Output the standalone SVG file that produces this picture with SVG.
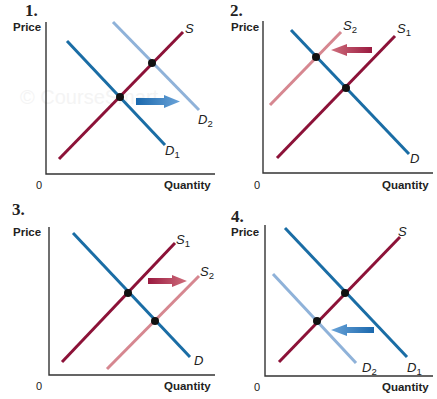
<svg xmlns="http://www.w3.org/2000/svg" width="437" height="399" viewBox="0 0 437 399">
<defs>
<linearGradient id="gBlueR" x1="0" y1="0" x2="1" y2="0"><stop offset="0" stop-color="#1a68ad"/><stop offset="1" stop-color="#6aa3d8"/></linearGradient>
<linearGradient id="gBlueL" x1="1" y1="0" x2="0" y2="0"><stop offset="0" stop-color="#1a68ad"/><stop offset="1" stop-color="#6aa3d8"/></linearGradient>
<linearGradient id="gRedR" x1="0" y1="0" x2="1" y2="0"><stop offset="0" stop-color="#9a1a40"/><stop offset="1" stop-color="#cf6e7c"/></linearGradient>
<linearGradient id="gRedL" x1="1" y1="0" x2="0" y2="0"><stop offset="0" stop-color="#9a1a40"/><stop offset="1" stop-color="#cf6e7c"/></linearGradient>
</defs>
<style>
.num{font-family:"Liberation Serif",serif;font-weight:bold;font-size:17px;fill:#222}
.ax{font-family:"Liberation Sans",Arial,sans-serif;font-weight:bold;font-size:11.5px;fill:#222}
.zero{font-family:"Liberation Sans",Arial,sans-serif;font-size:11px;fill:#222}
.lab{font-family:"Liberation Sans",Arial,sans-serif;font-style:italic;font-size:13px;fill:#222}
.sub{font-size:9.5px;font-style:normal}
.axis{stroke:#333;stroke-width:1.4;fill:none}
.s{stroke:#8c1238;stroke-width:3;fill:none}
.s2{stroke:#d68790;stroke-width:3;fill:none}
.d{stroke:#1a6da5;stroke-width:3;fill:none}
.d2{stroke:#8fb2d9;stroke-width:3;fill:none}
.dot{fill:#111}
.wm{font-family:"Liberation Sans",Arial,sans-serif;font-size:20px;fill:#f4f4f4}
</style>
<g id="panel1">
<text class="wm" x="20" y="104">© CourseSmart</text>
<text class="num" x="25" y="16">1.</text>
<text class="ax" x="13" y="31">Price</text>
<polyline class="axis" points="46,22 46,174 215,174"/>
<text class="zero" x="36" y="189">0</text>
<text class="ax" x="164" y="189">Quantity</text>
<line class="d2" x1="113" y1="22" x2="199" y2="110"/>
<line class="d" x1="67" y1="41" x2="165" y2="145"/>
<line class="s" x1="59" y1="159" x2="183" y2="32"/>
<circle class="dot" cx="120" cy="97" r="4"/>
<circle class="dot" cx="152" cy="63" r="4"/>
<path d="M136,98 L164,98 L164,95 L180,101.5 L164,108 L164,105 L136,105 Z" fill="url(#gBlueR)"/>
<text class="lab" x="185" y="33">S</text>
<text class="lab" x="198" y="124">D<tspan class="sub" dy="3">2</tspan></text>
<text class="lab" x="165" y="155">D<tspan class="sub" dy="3">1</tspan></text>
</g>
<g id="panel2">
<text class="num" x="230" y="16">2.</text>
<text class="ax" x="231" y="31">Price</text>
<polyline class="axis" points="263,21 263,173 433,173"/>
<text class="zero" x="254" y="189">0</text>
<text class="ax" x="382" y="189">Quantity</text>
<line class="s2" x1="270" y1="105" x2="341" y2="32"/>
<line class="s" x1="277" y1="158" x2="395" y2="36"/>
<line class="d" x1="291" y1="30" x2="409" y2="154"/>
<circle class="dot" cx="316" cy="57" r="4"/>
<circle class="dot" cx="346" cy="88" r="4"/>
<path d="M372,47 L347,47 L347,44 L331,50 L347,56 L347,53 L372,53 Z" fill="url(#gRedL)"/>
<text class="lab" x="343" y="30">S<tspan class="sub" dy="3">2</tspan></text>
<text class="lab" x="397" y="33">S<tspan class="sub" dy="3">1</tspan></text>
<text class="lab" x="410" y="163">D</text>
</g>
<g id="panel3">
<text class="num" x="12" y="215">3.</text>
<text class="ax" x="13" y="236">Price</text>
<polyline class="axis" points="49,227 49,375 215,375"/>
<text class="zero" x="36" y="390">0</text>
<text class="ax" x="164" y="390">Quantity</text>
<line class="s2" x1="107" y1="369" x2="199" y2="276"/>
<line class="s" x1="62" y1="362" x2="175" y2="243"/>
<line class="d" x1="73" y1="233" x2="190" y2="357"/>
<circle class="dot" cx="128" cy="293" r="4"/>
<circle class="dot" cx="155" cy="321" r="4"/>
<path d="M148,278 L172,278 L172,275 L187,281 L172,287 L172,284 L148,284 Z" fill="url(#gRedR)"/>
<text class="lab" x="176" y="244">S<tspan class="sub" dy="3">1</tspan></text>
<text class="lab" x="200" y="276">S<tspan class="sub" dy="3">2</tspan></text>
<text class="lab" x="194" y="365">D</text>
</g>
<g id="panel4">
<text class="num" x="231" y="222">4.</text>
<text class="ax" x="231" y="236">Price</text>
<polyline class="axis" points="265,225 265,376 433,376"/>
<text class="zero" x="254" y="391">0</text>
<text class="ax" x="382" y="391">Quantity</text>
<line class="d2" x1="273" y1="274" x2="356" y2="363"/>
<line class="d" x1="285" y1="228" x2="407" y2="357"/>
<line class="s" x1="279" y1="362" x2="400" y2="237"/>
<circle class="dot" cx="345" cy="293" r="4"/>
<circle class="dot" cx="317" cy="321" r="4"/>
<path d="M374,327 L347,327 L347,324 L331,330 L347,336 L347,333 L374,333 Z" fill="url(#gBlueL)"/>
<text class="lab" x="398" y="236">S</text>
<text class="lab" x="362" y="372">D<tspan class="sub" dy="3">2</tspan></text>
<text class="lab" x="407" y="372">D<tspan class="sub" dy="3">1</tspan></text>
</g>
</svg>
